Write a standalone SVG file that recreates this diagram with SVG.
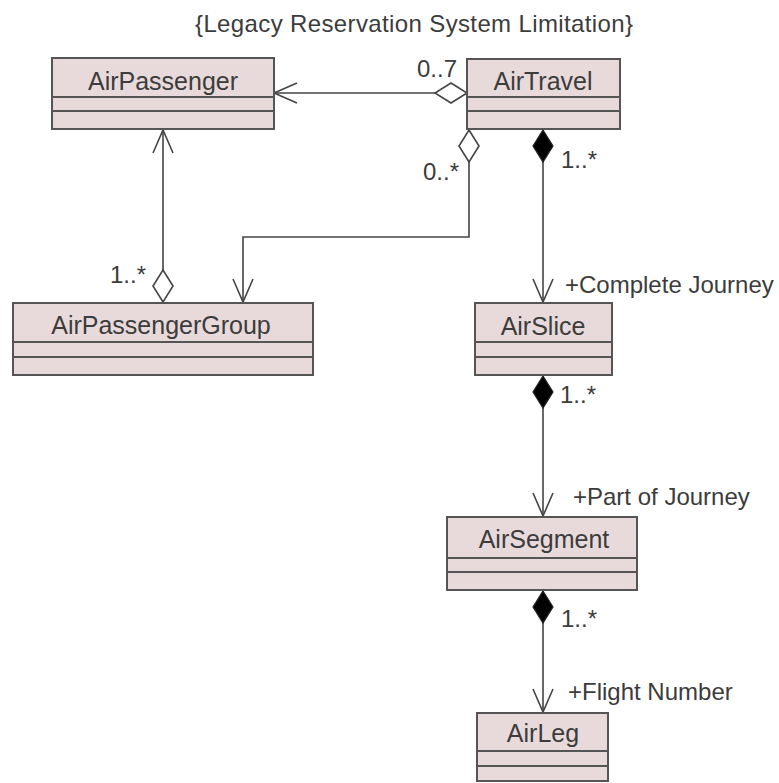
<svg xmlns="http://www.w3.org/2000/svg" width="779" height="783" viewBox="0 0 779 783">
<style>
.box{fill:#e8dadb;stroke:#555;stroke-width:2}
.div{stroke:#555;stroke-width:2}
.name{font-family:"Liberation Sans",Arial,sans-serif;font-size:25px;fill:#3c3c3c;text-anchor:middle}
.lbl{font-family:"Liberation Sans",Arial,sans-serif;font-size:24px;fill:#3c3c3c}
.conn{fill:none;stroke:#444;stroke-width:1.6}
</style>
<defs>
<marker id="hd" viewBox="-2 -12 36 24" refX="0" refY="0" markerWidth="36" markerHeight="24" markerUnits="userSpaceOnUse" orient="auto">
<path d="M0,0 L16,-10 L32,0 L16,10 Z" fill="#fff" stroke="#444" stroke-width="1.6"/>
</marker>
<marker id="fd" viewBox="-2 -12 36 24" refX="0" refY="0" markerWidth="36" markerHeight="24" markerUnits="userSpaceOnUse" orient="auto">
<path d="M0,0 L16,-10 L32,0 L16,10 Z" fill="#000" stroke="#222" stroke-width="1.2"/>
</marker>
<marker id="ar" viewBox="-25 -12 27 24" refX="0" refY="0" markerWidth="27" markerHeight="24" markerUnits="userSpaceOnUse" orient="auto">
<path d="M-23,-10 L0,0 L-23,10" fill="none" stroke="#444" stroke-width="1.6"/>
</marker>
</defs>
<text class="lbl" x="195" y="32" font-size="25" textLength="438">{Legacy Reservation System Limitation}</text>
<g id="connectors">
<path class="conn" d="M467,93 H274" marker-start="url(#hd)" marker-end="url(#ar)"/>
<path class="conn" d="M469,130 V237 H243 V302" marker-start="url(#hd)" marker-end="url(#ar)"/>
<path class="conn" d="M163,302 V130" marker-start="url(#hd)" marker-end="url(#ar)"/>
<path class="conn" d="M543,130 V302" marker-start="url(#fd)" marker-end="url(#ar)"/>
<path class="conn" d="M543,376 V516" marker-start="url(#fd)" marker-end="url(#ar)"/>
<path class="conn" d="M543,591 V712" marker-start="url(#fd)" marker-end="url(#ar)"/>
<text class="lbl" x="417" y="77">0..7</text>
<text class="lbl" x="423" y="180">0..*</text>
<text class="lbl" x="561" y="168">1..*</text>
<text class="lbl" x="110" y="283">1..*</text>
<text class="lbl" x="560" y="403">1..*</text>
<text class="lbl" x="561" y="627">1..*</text>
<text class="lbl" x="565" y="293">+Complete Journey</text>
<text class="lbl" x="573" y="505">+Part of Journey</text>
<text class="lbl" x="568" y="700">+Flight Number</text>
</g>
<g id="AirPassenger">
<rect class="box" x="52" y="58" width="222" height="71"/>
<line class="div" x1="52" y1="97" x2="274" y2="97"/>
<line class="div" x1="52" y1="111" x2="274" y2="111"/>
<text class="name" x="163" y="90">AirPassenger</text>
</g>
<g id="AirTravel">
<rect class="box" x="467" y="59" width="153" height="70"/>
<line class="div" x1="467" y1="97" x2="620" y2="97"/>
<line class="div" x1="467" y1="111" x2="620" y2="111"/>
<text class="name" x="543" y="90">AirTravel</text>
</g>
<g id="AirPassengerGroup">
<rect class="box" x="13" y="303" width="300" height="72"/>
<line class="div" x1="13" y1="342" x2="313" y2="342"/>
<line class="div" x1="13" y1="357" x2="313" y2="357"/>
<text class="name" x="161" y="334">AirPassengerGroup</text>
</g>
<g id="AirSlice">
<rect class="box" x="475" y="303" width="137" height="72"/>
<line class="div" x1="475" y1="342" x2="612" y2="342"/>
<line class="div" x1="475" y1="357" x2="612" y2="357"/>
<text class="name" x="543" y="335">AirSlice</text>
</g>
<g id="AirSegment">
<rect class="box" x="447" y="517" width="190" height="73"/>
<line class="div" x1="447" y1="558" x2="637" y2="558"/>
<line class="div" x1="447" y1="572" x2="637" y2="572"/>
<text class="name" x="544" y="548">AirSegment</text>
</g>
<g id="AirLeg">
<rect class="box" x="477" y="713" width="131" height="68"/>
<line class="div" x1="477" y1="751" x2="608" y2="751"/>
<line class="div" x1="477" y1="766" x2="608" y2="766"/>
<text class="name" x="543" y="742">AirLeg</text>
</g>
</svg>
